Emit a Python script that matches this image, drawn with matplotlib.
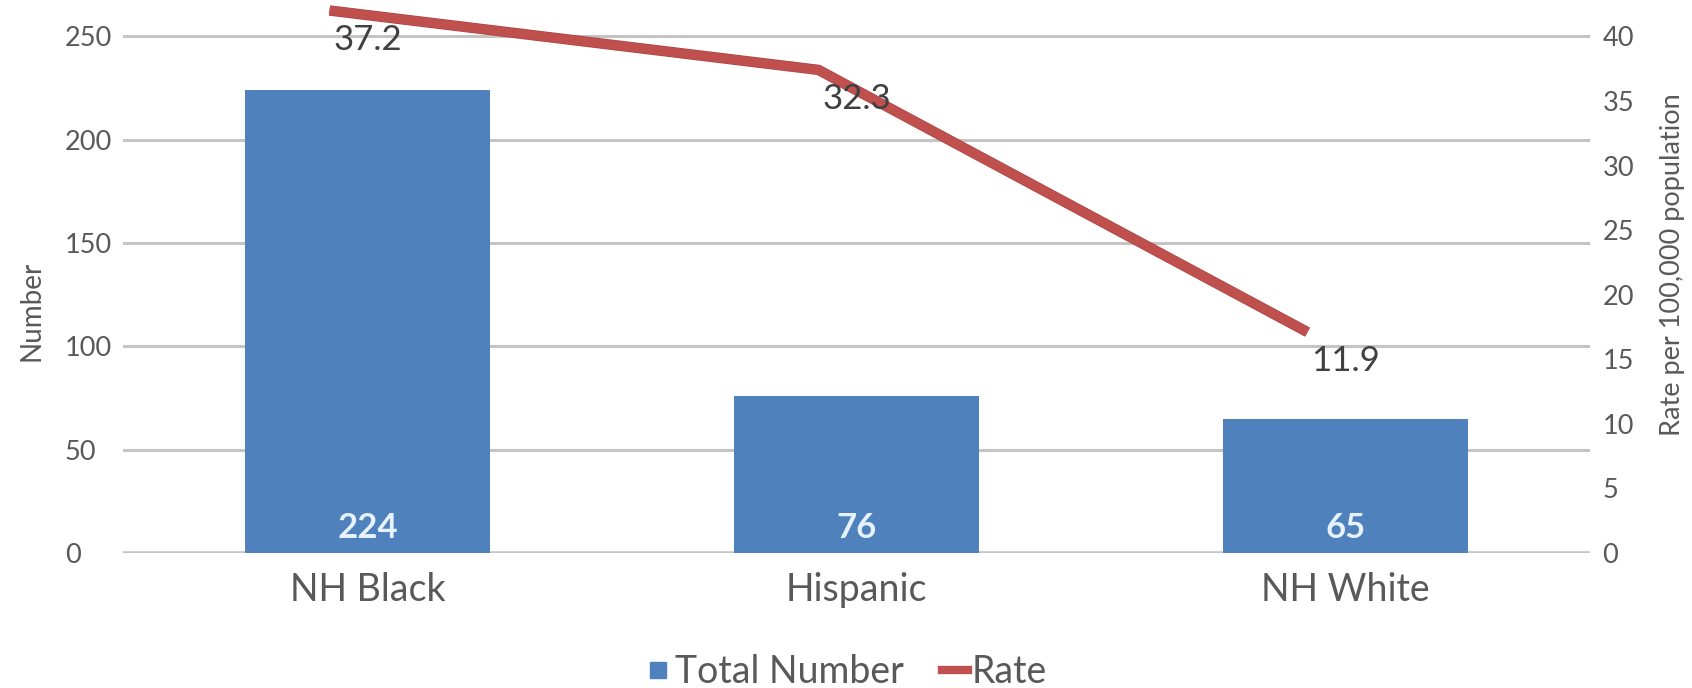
import matplotlib.pyplot as plt
import matplotlib.transforms as mtransforms
from matplotlib.lines import Line2D
import matplotlib.patheffects as pe

plt.rcParams['font.family'] = ['Lato', 'DejaVu Sans']

# data
groups = ["NH Black", "Hispanic", "NH White"]
totals = [224, 76, 65]
rate_labels = ["37.2", "32.3", "11.9"]
# where the rate line is drawn on the right axis in the picture
rate_drawn = [42.0, 37.4, 17.1]

left_ticks = [0, 50, 100, 150, 200, 250]
right_ticks = [0, 5, 10, 15, 20, 25, 30, 35, 40]

blue = "#4F81BD"
red = "#C0504D"
grey_text = "#595959"
grid_col = "#C4C4C4"

W, H = 1692, 688
fig = plt.figure(figsize=(W / 100, H / 100), dpi=100)
ax = fig.add_axes([123 / W, 135 / H, (1590 - 123) / W, 558 / H])
ax2 = ax.twinx()

x = list(range(len(groups)))
ax.bar(x, totals, width=0.5, color=blue, zorder=2)
ax.set_xlim(-0.5, len(groups) - 0.5)
ax.set_ylim(0, 270)
ax2.set_ylim(0, 270 / 6.25)

ax.set_yticks(left_ticks)
ax2.set_yticks(right_ticks)
ax.yaxis.grid(True, color=grid_col, lw=2.2, zorder=0)
ax.set_axisbelow(True)

for a in (ax, ax2):
    for s in a.spines.values():
        s.set_visible(False)
ax.axhline(0, color=grid_col, lw=2.6, zorder=1)

ax.set_xticks(x)
ax.set_xticklabels(groups, fontsize=27, color=grey_text)
ax.tick_params(axis='x', length=0, pad=14)
ax.tick_params(axis='y', length=0, pad=42, labelsize=19.5, labelcolor=grey_text)
for lab in ax.get_yticklabels():
    lab.set_horizontalalignment('left')
ax2.tick_params(axis='y', length=0, pad=9, labelsize=19.5, labelcolor=grey_text)

ax.set_ylabel("Number", fontsize=20, color=grey_text)
ax.yaxis.set_label_coords(44 / W, 1 - 311 / H, transform=fig.transFigure)
ax2.set_ylabel("Rate per 100,000 population", fontsize=19.5, color=grey_text,
               rotation=90)
ax2.yaxis.set_label_coords(1660 / W, 1 - 265 / H, transform=fig.transFigure)

# line is shifted a little left of the bar centres in the original
shift = mtransforms.ScaledTranslation(-38 / 100, 0, fig.dpi_scale_trans)
ax2.plot(x, rate_drawn, color=red, lw=6.5, solid_capstyle='butt',
         solid_joinstyle='miter', transform=ax2.transData + shift, zorder=3,
         path_effects=[pe.Stroke(linewidth=7.5, foreground="#A94442"), pe.Normal()])

down = mtransforms.ScaledTranslation(0, -29 / 100, fig.dpi_scale_trans)
for i in x:
    ax2.text(i, rate_drawn[i], rate_labels[i], ha='center', va='center',
             fontsize=25, color="#404040", transform=ax2.transData + down,
             zorder=4)

up = mtransforms.ScaledTranslation(0, 25 / 100, fig.dpi_scale_trans)
for i in x:
    ax.text(i, 0, str(totals[i]), ha='center', va='center', fontsize=25,
            fontweight='bold', color="#E6F2FF", transform=ax.transData + up,
            zorder=4)

handles = [
    Line2D([], [], marker='s', linestyle='none', markersize=12,
           markerfacecolor=blue, markeredgecolor=blue),
    Line2D([], [], color=red, lw=6),
]
fig.legend(handles, ["Total Number", "Rate"], loc='center',
           bbox_to_anchor=(846 / W, 16 / H), ncol=2, frameon=False,
           fontsize=27, labelcolor=grey_text, handlelength=0.7,
           handletextpad=0.1, columnspacing=1.0, borderpad=0)

fig.savefig("out.png", dpi=100)
